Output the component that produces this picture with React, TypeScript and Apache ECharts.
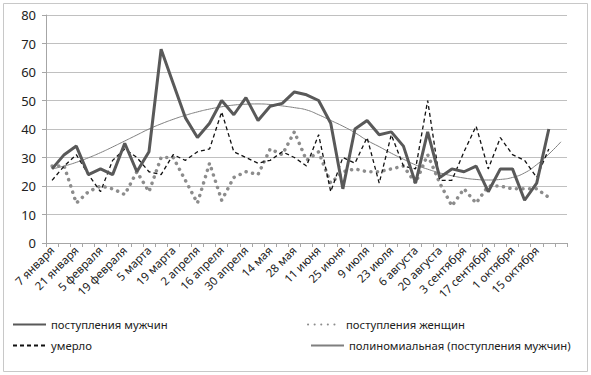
import React, { useEffect, useRef } from "react";
import * as echarts from "echarts";

const categories: string[] = [
  "7 января", "14 января", "21 января", "29 января", "5 февраля", "12 февраля", "19 февраля", "26 февраля",
  "5 марта", "12 марта", "19 марта", "26 марта", "2 апреля", "9 апреля", "16 апреля", "23 апреля",
  "30 апреля", "7 мая", "14 мая", "21 мая", "28 мая", "4 июня", "11 июня", "18 июня",
  "25 июня", "2 июля", "9 июля", "16 июля", "23 июля", "30 июля", "6 августа", "13 августа",
  "20 августа", "27 августа", "3 сентября", "10 сентября", "17 сентября", "24 сентября", "1 октября", "8 октября",
  "15 октября", "22 октября", "29 октября",
];

const men: (number | null)[] = [
  26, 31, 34, 24, 26, 24, 35, 25, 32, 68, 56, 44, 37, 42, 50, 45, 51, 43, 48, 49,
  53, 52, 50, 42, 19, 40, 43, 38, 39, 34, 21, 39, 23, 26, 25, 27, 18, 26, 26, 15,
  21, 40, null,
];

const women: (number | null)[] = [
  27, 27, 14, 18, 20, 19, 17, 25, 18, 30, 30, 22, 14, 28, 15, 23, 25, 24, 33, 31,
  39, 29, 32, 21, 25, 26, 25, 25, 26, 27, 21, 31, 21, 13, 19, 14, 20, 20, 19, 19,
  19, 16, null,
];

const died: (number | null)[] = [
  22, 27, 31, 24, 18, 29, 33, 30, 25, 24, 31, 29, 32, 33, 46, 32, 30, 28, 29, 32,
  30, 27, 38, 18, 30, 28, 37, 21, 38, 27, 26, 50, 22, 22, 32, 41, 26, 37, 31, 29,
  23, 33, null,
];

const trend: number[] = [
  26.0, 27.0, 28.3, 29.9, 31.7, 33.7, 35.8, 37.9, 40.0, 41.8, 43.4, 44.8, 46.0, 47.0, 47.8, 48.4,
  48.7, 48.8, 48.6, 48.1, 47.5, 46.7, 45.0, 43.0, 41.0, 38.7, 36.0, 33.8, 31.5, 29.4, 27.4, 25.9,
  24.6, 23.6, 22.8, 22.3, 22.1, 22.3, 23.0, 24.6, 27.5, 31.2, 35.5,
];

const yTicks = { min: 0, max: 80, interval: 10 };
const lastLabelledIndex = 40;

const NAME_MEN = "поступления мужчин";
const NAME_WOMEN = "поступления женщин";
const NAME_DIED = "умерло";
const NAME_TREND = "полиномиальная (поступления мужчин)";

const FONT = "'Noto Sans', 'Open Sans', sans-serif";

export default function App() {
  const ref = useRef<HTMLDivElement>(null);
  useEffect(() => {
    if (!ref.current) return;
    const chart = echarts.init(ref.current, undefined, { renderer: "svg" });
    const legendBase = {
      orient: "horizontal" as const,
      itemWidth: 33,
      itemHeight: 12,
      itemGap: 5,
      padding: 0,
      textStyle: { fontFamily: FONT, fontSize: 11.3, color: "#222" },
      itemStyle: { opacity: 0 },
    };
    chart.setOption({
      animation: false,
      backgroundColor: "#fff",
      textStyle: { fontFamily: FONT },
      graphic: [
        {
          type: "rect",
          shape: { x: 3.5, y: 3.5, width: 584, height: 368 },
          style: { fill: "none", stroke: "#c8c8c8", lineWidth: 1 },
          silent: true,
          z: -1,
        },
      ],
      grid: { left: 46, right: 24, top: 15, bottom: 132, containLabel: false },
      legend: [
        { ...legendBase, data: [NAME_MEN], left: 12, top: 319 },
        { ...legendBase, data: [NAME_WOMEN], left: 307, top: 319 },
        { ...legendBase, data: [NAME_DIED], left: 12, top: 340 },
        { ...legendBase, data: [NAME_TREND], left: 310, top: 340 },
      ],
      xAxis: {
        type: "category",
        data: categories,
        boundaryGap: true,
        axisLine: { lineStyle: { color: "#a6a6a6", width: 1 } },
        axisTick: { show: true, interval: 0, length: 4, lineStyle: { color: "#a6a6a6" } },
        axisLabel: {
          interval: (idx: number) => idx % 2 === 0 && idx <= lastLabelledIndex,
          rotate: 45,
          margin: 5,
          fontFamily: FONT,
          fontSize: 11.5,
          color: "#222",
        },
        splitLine: { show: false },
      },
      yAxis: {
        type: "value",
        min: yTicks.min,
        max: yTicks.max,
        interval: yTicks.interval,
        axisLine: { show: true, lineStyle: { color: "#a6a6a6", width: 1 } },
        axisTick: { show: true, length: 4, lineStyle: { color: "#a6a6a6" } },
        axisLabel: { margin: 10, fontFamily: FONT, fontSize: 13, color: "#222" },
        splitLine: { lineStyle: { color: "#c0c0c0", width: 1 } },
      },
      series: [
        {
          name: NAME_MEN,
          type: "line",
          data: men,
          symbol: "none",
          lineStyle: { color: "#595959", width: 3 },
          itemStyle: { color: "#595959" },
          z: 5,
        },
        {
          name: NAME_WOMEN,
          type: "line",
          data: women,
          symbol: "none",
          lineStyle: { color: "#8c8c8c", width: 3.5, type: [0.1, 6.5], cap: "round" },
          itemStyle: { color: "#8c8c8c" },
          z: 3,
        },
        {
          name: NAME_DIED,
          type: "line",
          data: died,
          symbol: "none",
          lineStyle: { color: "#111", width: 1.3, type: [4, 3] },
          itemStyle: { color: "#111" },
          z: 4,
        },
        {
          name: NAME_TREND,
          type: "line",
          data: trend,
          symbol: "none",
          smooth: true,
          lineStyle: { color: "#7f7f7f", width: 1 },
          itemStyle: { color: "#7f7f7f" },
          z: 2,
        },
      ],
    });
    return () => chart.dispose();
  }, []);
  return (
    <div
      ref={ref}
      style={{ position: "fixed", left: 0, top: 0, width: 591, height: 375, background: "#fff" }}
    />
  );
}
